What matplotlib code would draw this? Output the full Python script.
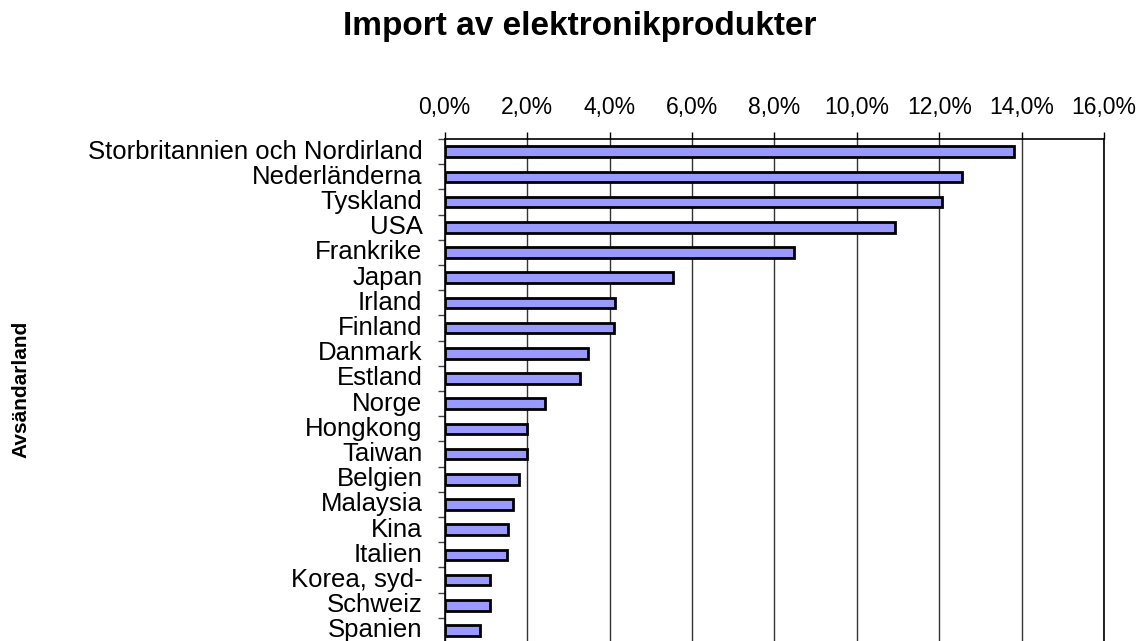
import matplotlib
matplotlib.use("Agg")
from matplotlib import pyplot as plt
from matplotlib.ticker import FuncFormatter, MultipleLocator
import numpy as np

plt.rcParams["font.family"] = ["Liberation Sans", "DejaVu Sans"]

countries = ["Storbritannien och Nordirland", "Nederländerna", "Tyskland", "USA",
             "Frankrike", "Japan", "Irland", "Finland", "Danmark", "Estland",
             "Norge", "Hongkong", "Taiwan", "Belgien", "Malaysia", "Kina",
             "Italien", "Korea, syd-", "Schweiz", "Spanien"]
share = [13.82, 12.55, 12.06, 10.92, 8.48, 5.54, 4.14, 4.12, 3.49, 3.29,
         2.43, 2.00, 1.99, 1.81, 1.65, 1.54, 1.51, 1.09, 1.09, 0.85]

fig = plt.figure(figsize=(11.43, 6.41), dpi=100)
# axes runs past the bottom of the figure, like the cropped original
ax = fig.add_axes([0.389, 0.0, 0.577, 0.783])

y = np.arange(len(countries))
ax.barh(y, share, height=0.42, color="#9999FF", edgecolor="black", linewidth=2, zorder=3)

ax.set_xlim(0, 16)
ax.set_ylim(19.42, -0.5)

ax.xaxis.set_major_locator(MultipleLocator(2))
ax.xaxis.set_major_formatter(FuncFormatter(lambda v, p: f"{v:.1f}%".replace(".", ",")))
ax.xaxis.tick_top()
ax.tick_params(axis="x", which="major", length=5, width=1, pad=9.5, labelsize=16.5)
ax.grid(axis="x", color="#333333", linewidth=1, zorder=0)

ax.set_yticks(y)
ax.set_yticklabels(countries, va="center")
ax.set_yticks(np.arange(-0.5, 19.5, 1), minor=True)
ax.tick_params(axis="y", which="major", length=0, pad=16, labelsize=18.5)
ax.tick_params(axis="y", which="minor", length=5, width=1, color="#444444")

for s in ["top", "left", "right"]:
    ax.spines[s].set_color("black")
    ax.spines[s].set_linewidth(1.2)
ax.spines["bottom"].set_visible(False)

fig.text(0.5075, 0.945, "Import av elektronikprodukter", ha="center", va="baseline",
         fontsize=24, fontweight="bold")
fig.text(0.018, 0.392, "Avsändarland", rotation=90, ha="center", va="center",
         fontsize=15, fontweight="bold")

fig.savefig("out.png", dpi=100)
